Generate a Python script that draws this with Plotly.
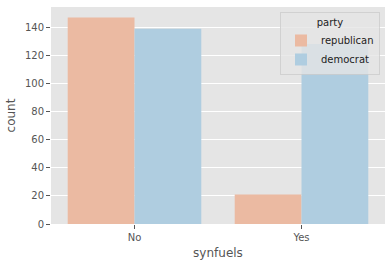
import plotly.graph_objects as go

categories = ["No", "Yes"]
parties = ["republican", "democrat"]
republican = [147, 21]
democrat = [139, 128]
colors = ["#EBBAA2", "#AFCDE0"]

fig = go.Figure()
for name, vals, col in zip(parties, [republican, democrat], colors):
    fig.add_trace(go.Bar(x=categories, y=vals, name=name, marker=dict(color=col, line=dict(width=0))))

fig.update_layout(
    width=392, height=265,
    margin=dict(l=51, r=7, t=7, b=41),
    paper_bgcolor="white", plot_bgcolor="#E5E5E5",
    barmode="group", bargap=0.2, bargroupgap=0,
    font=dict(family="DejaVu Sans", color="#555555", size=10),
    showlegend=True,
    legend=dict(
        x=0.985, y=0.977, xanchor="right", yanchor="top",
        bgcolor="rgba(229,229,229,0.8)", bordercolor="rgba(204,204,204,0.8)", borderwidth=1,
        font=dict(size=10, color="#222222"),
        title=dict(text="party", side="top center", font=dict(size=10, color="#222222")),
        itemwidth=30, tracegroupgap=0,
    ),
)
fig.update_xaxes(
    range=[-0.5, 1.5], showgrid=False, zeroline=False,
    ticks="outside", ticklen=4, tickcolor="#555555",
    tickfont=dict(size=10, color="#555555"),
    title=dict(text="synfuels", font=dict(size=12, color="#555555"), standoff=6),
)
fig.update_yaxes(
    range=[0, 154.4], showgrid=True, gridcolor="white", gridwidth=1, zeroline=False,
    tickmode="array", tickvals=[0, 20, 40, 60, 80, 100, 120, 140],
    ticks="outside", ticklen=4, tickcolor="#555555",
    tickfont=dict(size=10, color="#555555"),
    title=dict(text="count", font=dict(size=12, color="#555555"), standoff=6),
)

fig.write_html("out.html")
